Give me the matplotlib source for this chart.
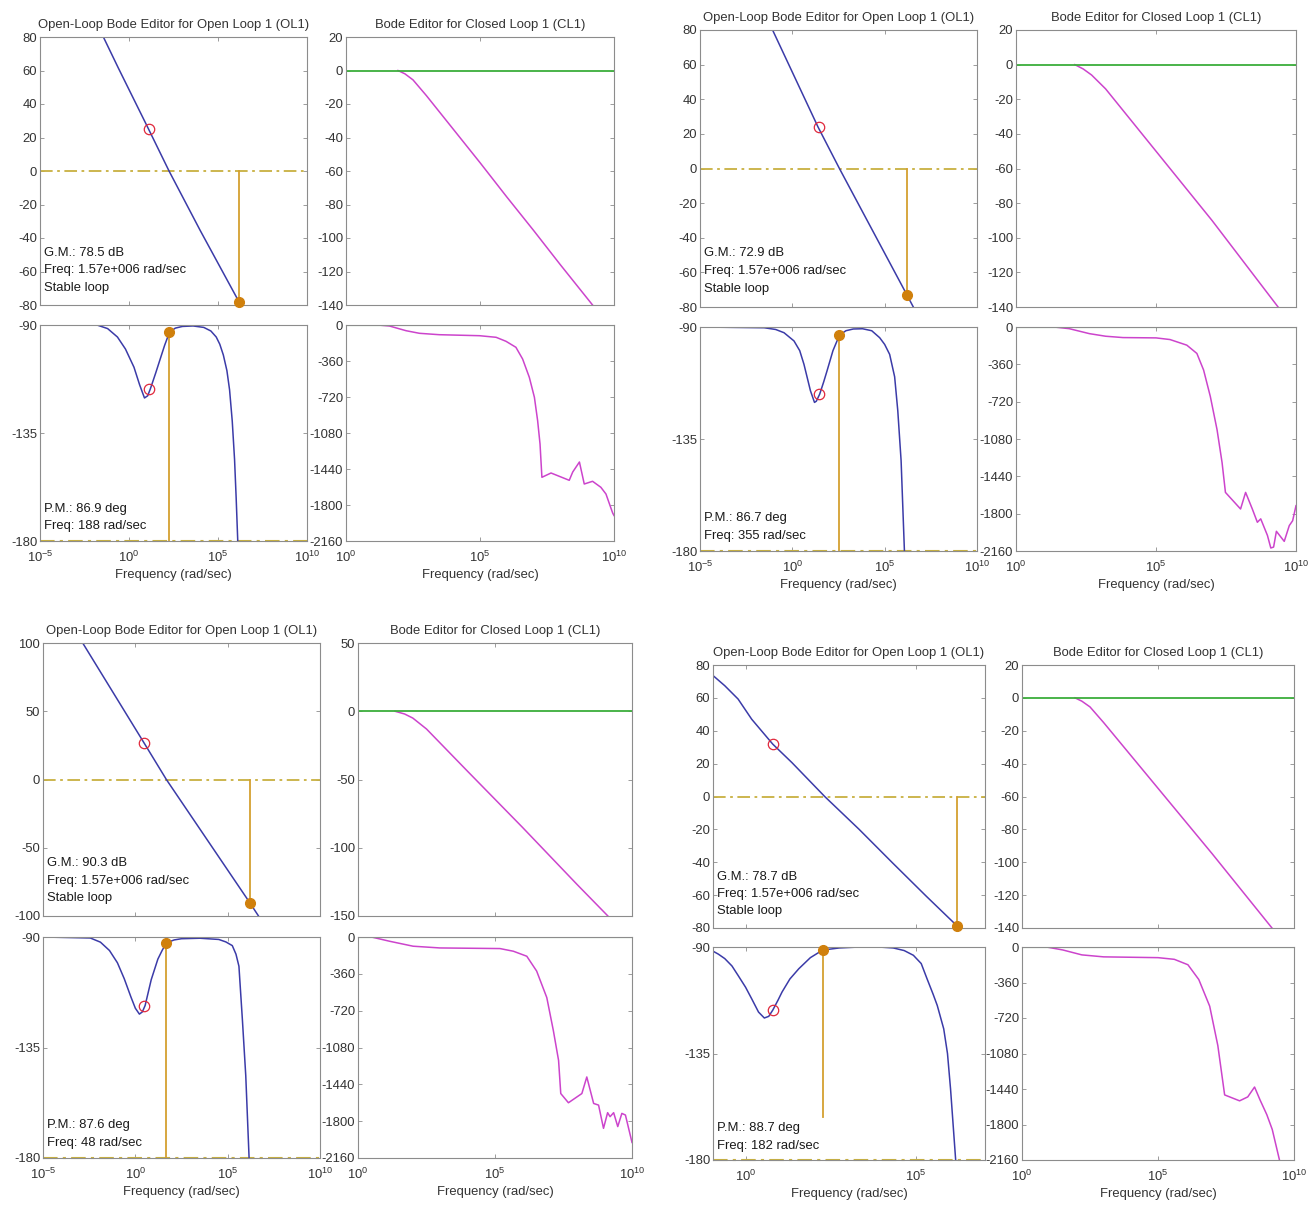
import numpy as np
import matplotlib
matplotlib.use('Agg')
import matplotlib.pyplot as plt
from matplotlib.ticker import FixedLocator, NullLocator, LogFormatterMathtext

plt.rcParams['font.family'] = ['Liberation Sans', 'DejaVu Sans']
plt.rcParams['mathtext.fontset'] = 'custom'
plt.rcParams['mathtext.rm'] = 'Liberation Sans'
plt.rcParams['mathtext.it'] = 'Liberation Sans:italic'
plt.rcParams['axes.unicode_minus'] = False

W, H = 1314, 1207

BLUE = '#3b3ba8'
MAGENTA = '#cc44cc'
GREEN = '#3cae3c'
GOLD = '#d4a030'
DASH = '#c8b040'
DOT = '#d0800c'
RED = '#e0283c'
TXT = '#1a1a1a'
FS = 9.4

OL_TITLE = 'Open-Loop Bode Editor for Open Loop 1 (OL1)'
CL_TITLE = 'Bode Editor for Closed Loop 1 (CL1)'
XLABEL = 'Frequency (rad/sec)'

# frequencies are given as log10(rad/sec)
# ---- panel a (top left)
a_ol_mag_w = [-1.44, -0.6, 1.1, 2.25, 4.0, 6.2, 6.5]
a_ol_mag_db = [80, 61.5, 25, 0, -35.5, -78.5, -85]
a_ol_ph_w = [-5, -1.8, -1.2, -0.65, -0.2, 0.28, 0.6, 0.87, 1.05, 1.2, 1.5, 1.76, 2.0, 2.27,
             2.6, 3.0, 3.6, 4.2, 4.6, 4.9, 5.1, 5.3, 5.5, 5.65, 5.8, 5.93, 6.02, 6.11, 6.2]
a_ol_ph_deg = [-90, -90, -91.5, -95, -100, -107.6, -115, -120.4, -119.5, -116.6, -110, -104,
               -98.5, -93.1, -91.3, -90.6, -90.4, -91, -92.5, -95, -98, -102.5, -109, -117,
               -130, -146, -162, -180, -195]
a_cl_mag_w = [1.94, 2.2, 2.5, 3.0, 4.0, 5.0, 6.0, 7.0, 8.0, 9.23]
a_cl_mag_db = [0, -2, -5.6, -15, -35, -55, -75.5, -95.5, -116, -140.6]
a_cl_ph_w = [1.18, 1.62, 2.24, 2.74, 3.48, 4.98, 5.6, 5.97, 6.34, 6.59, 6.84, 7.03, 7.15,
             7.24, 7.31, 7.65, 8.33, 8.46, 8.71, 8.89, 9.2, 9.51, 9.7, 9.95, 10]
a_cl_ph_deg = [0, -10, -57, -83, -97, -107, -123, -163, -223, -340, -523, -723, -956,
               -1190, -1523, -1480, -1553, -1470, -1370, -1590, -1563, -1623, -1690, -1880, -1905]
a_gm, a_gm_freq = 78.5, 1.57e6
a_pm, a_pm_freq = 86.9, 188
a_circ = (1.1, 25, -116.6)

# ---- panel b (top right)
b_ol_mag_w = [-1.07, 1.39, 2.55, 6.2, 6.6]
b_ol_mag_db = [80, 24, 0, -72.9, -81]
b_ol_ph_w = [-5, -1.52, -0.9, -0.45, 0.09, 0.4, 0.63, 0.98, 1.2, 1.3, 1.48, 1.7, 1.88, 2.2,
             2.55, 2.9, 3.3, 3.8, 4.3, 4.73, 5.0, 5.27, 5.54, 5.71, 5.89, 6.07, 6.2]
b_ol_ph_deg = [-90, -90.3, -91, -92.3, -95.6, -99.5, -105, -115.6, -120.3, -119.8, -117, -112,
               -107.6, -99.5, -93.3, -91.5, -90.8, -90.7, -91.5, -94.3, -97, -101, -110,
               -123.6, -143.7, -180, -200]
b_cl_mag_w = [2.1, 2.4, 2.7, 3.2, 5.0, 7.0, 9.36]
b_cl_mag_db = [0, -2.5, -6, -14, -50, -90, -140]
b_cl_ph_w = [1.36, 1.9, 2.62, 3.2, 3.82, 5.0, 5.5, 6.1, 6.46, 6.7, 6.94, 7.18, 7.36, 7.48,
             8.02, 8.2, 8.44, 8.62, 8.74, 8.98, 9.1, 9.2, 9.3, 9.58, 9.76, 9.88, 10]
b_cl_ph_deg = [0, -16, -64, -89, -102, -105, -121, -175, -255, -415, -670, -990, -1308, -1595,
               -1755, -1595, -1755, -1883, -1850, -2010, -2131, -2122, -1970, -2067, -1915,
               -1868, -1723]
b_gm, b_gm_freq = 72.9, 1.57e6
b_pm, b_pm_freq = 86.7, 355
b_circ = (1.45, 24, -117)

# ---- panel c (bottom left)
c_ol_mag_w = [-2.85, 0.49, 1.68, 6.2, 6.67]
c_ol_mag_db = [100, 26.4, 0, -90.3, -100]
c_ol_ph_w = [-5, -2.44, -1.89, -1.4, -0.97, -0.6, -0.24, 0.0, 0.22, 0.38, 0.53, 0.7, 0.86,
             1.22, 1.45, 1.68, 2.1, 2.5, 3.5, 4.52, 4.9, 5.25, 5.45, 5.61, 5.8, 5.98, 6.16, 6.3]
c_ol_ph_deg = [-90, -90.4, -92.1, -95.5, -100.5, -107, -114.4, -119, -121.4, -120.5, -117.9,
               -112.5, -107.4, -99, -95.5, -92.4, -91.2, -90.7, -90.5, -91, -92, -93.5, -97,
               -101.9, -124, -146.5, -180, -200]
c_cl_mag_w = [1.35, 1.7, 2.0, 2.5, 4.0, 6.0, 8.0, 9.12]
c_cl_mag_db = [0, -2, -5, -13, -44, -85, -127, -150]
c_cl_ph_w = [0.49, 1.16, 2.01, 2.99, 5.18, 5.67, 6.16, 6.52, 6.89, 7.13, 7.32, 7.4, 7.68,
             8.17, 8.35, 8.6, 8.78, 8.96, 9.11, 9.2, 9.33, 9.48, 9.63, 9.76, 10]
c_cl_ph_deg = [0, -42, -90, -107, -113, -139, -188, -333, -592, -915, -1206, -1530, -1620,
               -1530, -1368, -1627, -1643, -1870, -1717, -1756, -1717, -1853, -1724, -1740,
               -2008]
c_gm, c_gm_freq = 90.3, 1.57e6
c_pm, c_pm_freq = 87.6, 48
c_circ = (0.49, 26.4, -117.9)

# ---- panel d (bottom right)
d_ol_mag_w = [-0.95, -0.61, -0.22, 0.18, 0.8, 1.36, 2.32, 3.33, 4.31, 5.3, 6.2]
d_ol_mag_db = [73.5, 67.4, 59.3, 47, 31.8, 20.6, 0, -20, -40.4, -60.7, -78.7]
d_ol_ph_w = [-1.0, -0.8, -0.61, -0.4, -0.22, 0.0, 0.18, 0.38, 0.55, 0.68, 0.8, 0.95, 1.07,
             1.3, 1.56, 1.9, 2.26, 2.75, 3.34, 3.9, 4.33, 4.65, 4.92, 5.15, 5.32, 5.5, 5.62,
             5.81, 5.92, 6.01, 6.16, 6.3]
d_ol_ph_deg = [-91.4, -93, -94.9, -98, -102, -107, -111.9, -117.5, -120, -119.3, -116.6,
               -112.5, -109, -103.5, -99.2, -94.5, -91.3, -90.4, -90, -90, -90.4, -91.5,
               -93.5, -97, -103.4, -110, -114.7, -124.6, -135, -150, -180, -200]
d_cl_mag_w = [1.95, 2.2, 2.5, 3.0, 5.0, 7.0, 9.19]
d_cl_mag_db = [0, -2, -5.5, -15, -55, -95, -140]
d_cl_ph_w = [0.9, 1.5, 2.2, 3.0, 5.0, 5.6, 6.1, 6.5, 6.9, 7.2, 7.35, 7.45, 8.0, 8.3, 8.55,
             8.75, 9.0, 9.2, 9.5]
d_cl_ph_deg = [0, -30, -80, -100, -108, -125, -180, -330, -600, -1000, -1300, -1500, -1560,
               -1520, -1420, -1550, -1700, -1850, -2200]
d_gm, d_gm_freq = 78.7, 1.57e6
d_pm, d_pm_freq = 88.7, 182
d_circ = (0.8, 31.8, -116.6)
d_pm_line_bottom = -162

fig = plt.figure(figsize=(W / 100, H / 100), dpi=100)


def px_box(left, top, right, bottom):
    return [left / W, 1 - bottom / H, (right - left) / W, (bottom - top) / H]


def style(ax):
    for s in ax.spines.values():
        s.set_color('#8c8c8c')
        s.set_linewidth(0.8)
    ax.tick_params(direction='in', top=True, right=True, length=3, width=0.6,
                   color='#8c8c8c', labelsize=FS, labelcolor='#333333')
    ax.tick_params(axis='y', pad=2)
    ax.tick_params(axis='x', pad=6)


def log_x(ax, lo, hi, ticks, labels):
    ax.set_xscale('log')
    ax.set_xlim(10.0 ** lo, 10.0 ** hi)
    ax.xaxis.set_major_locator(FixedLocator([10.0 ** t for t in ticks]))
    ax.xaxis.set_minor_locator(NullLocator())
    ax.xaxis.set_major_formatter(LogFormatterMathtext())
    ax.tick_params(axis='x', labelbottom=labels)
    if labels:
        ax.set_xlabel(XLABEL, fontsize=FS, color='#333333', labelpad=3)


def exp10(seq):
    return 10.0 ** np.asarray(seq, dtype=float)


def panel(boxes, ol_mag, ol_ph, cl_mag, cl_ph, gm, gm_freq, pm, pm_freq, circ,
          ol_xlim, ol_ticks, ol_mag_lim, ol_mag_ticks, cl_mag_lim, cl_mag_ticks,
          pm_bottom=-180):
    b_olm, b_olp, b_clm, b_clp = boxes

    # open-loop magnitude
    ax = fig.add_axes(px_box(*b_olm))
    style(ax)
    log_x(ax, *ol_xlim, ol_ticks, False)
    ax.set_ylim(*ol_mag_lim)
    ax.set_yticks(ol_mag_ticks)
    ax.axhline(0, color=DASH, lw=1.3, dashes=(7, 2.5, 1.5, 2.5))
    ax.plot([gm_freq, gm_freq], [0, -gm], color=GOLD, lw=1.3)
    ax.plot(exp10(ol_mag[0]), ol_mag[1], color=BLUE, lw=1.1)
    ax.plot([gm_freq], [-gm], 'o', color=DOT, ms=7, clip_on=False, zorder=5)
    ax.plot([10 ** circ[0]], [circ[1]], 'o', mfc='none', mec=RED, ms=7.5, mew=0.9, zorder=5)
    ax.set_title(OL_TITLE, fontsize=FS, color='#333333', pad=6.5)
    lines = ['G.M.: %.1f dB' % gm, 'Freq: 1.57e+006 rad/sec', 'Stable loop']
    for i, t in enumerate(lines):
        ax.text(0.015, 0.195 - 0.065 * i, t, transform=ax.transAxes, fontsize=FS,
                color=TXT, va='center', ha='left')

    # open-loop phase
    ax = fig.add_axes(px_box(*b_olp))
    style(ax)
    log_x(ax, *ol_xlim, ol_ticks, True)
    ax.set_ylim(-180, -90)
    ax.set_yticks([-180, -135, -90])
    ax.axhline(-180, color=DASH, lw=1.5, dashes=(7, 2.5, 1.5, 2.5), clip_on=False)
    ax.plot([pm_freq, pm_freq], [pm_bottom, pm - 180], color=GOLD, lw=1.3, clip_on=False)
    ax.plot(exp10(ol_ph[0]), ol_ph[1], color=BLUE, lw=1.1)
    ax.plot([pm_freq], [pm - 180], 'o', color=DOT, ms=7, clip_on=False, zorder=5)
    ax.plot([10 ** circ[0]], [circ[2]], 'o', mfc='none', mec=RED, ms=7.5, mew=0.9, zorder=5)
    lines = ['P.M.: %.1f deg' % pm, 'Freq: %d rad/sec' % pm_freq]
    for i, t in enumerate(lines):
        ax.text(0.015, 0.148 - 0.08 * i, t, transform=ax.transAxes, fontsize=FS,
                color=TXT, va='center', ha='left')

    # closed-loop magnitude
    ax = fig.add_axes(px_box(*b_clm))
    style(ax)
    log_x(ax, 0, 10, [0, 5, 10], False)
    ax.set_ylim(*cl_mag_lim)
    ax.set_yticks(cl_mag_ticks)
    ax.plot(exp10(cl_mag[0]), cl_mag[1], color=MAGENTA, lw=1.1)
    ax.axhline(0, color=GREEN, lw=1.3)
    ax.set_title(CL_TITLE, fontsize=FS, color='#333333', pad=6.5)

    # closed-loop phase
    ax = fig.add_axes(px_box(*b_clp))
    style(ax)
    log_x(ax, 0, 10, [0, 5, 10], True)
    ax.set_ylim(-2160, 0)
    ax.set_yticks(np.arange(-2160, 1, 360))
    ax.plot(exp10(cl_ph[0]), cl_ph[1], color=MAGENTA, lw=1.1)
    ax.axhline(0, color=GREEN, lw=1.5)


mag20 = list(range(-80, 81, 20))
cl20 = list(range(-140, 21, 20))

panel([(40, 37, 307, 305), (40, 325, 307, 541), (346, 37, 614, 305), (346, 325, 614, 541)],
      (a_ol_mag_w, a_ol_mag_db), (a_ol_ph_w, a_ol_ph_deg),
      (a_cl_mag_w, a_cl_mag_db), (a_cl_ph_w, a_cl_ph_deg),
      a_gm, a_gm_freq, a_pm, a_pm_freq, a_circ,
      (-5, 10), [-5, 0, 5, 10], (-80, 80), mag20, (-140, 20), cl20)

panel([(700, 30, 977, 307), (700, 327, 977, 551), (1016, 30, 1296, 307), (1016, 327, 1296, 551)],
      (b_ol_mag_w, b_ol_mag_db), (b_ol_ph_w, b_ol_ph_deg),
      (b_cl_mag_w, b_cl_mag_db), (b_cl_ph_w, b_cl_ph_deg),
      b_gm, b_gm_freq, b_pm, b_pm_freq, b_circ,
      (-5, 10), [-5, 0, 5, 10], (-80, 80), mag20, (-140, 20), cl20)

panel([(43, 643, 320, 916), (43, 937, 320, 1158), (358, 643, 632, 916), (358, 937, 632, 1158)],
      (c_ol_mag_w, c_ol_mag_db), (c_ol_ph_w, c_ol_ph_deg),
      (c_cl_mag_w, c_cl_mag_db), (c_cl_ph_w, c_cl_ph_deg),
      c_gm, c_gm_freq, c_pm, c_pm_freq, c_circ,
      (-5, 10), [-5, 0, 5, 10], (-100, 100), [-100, -50, 0, 50, 100],
      (-150, 50), [-150, -100, -50, 0, 50])

panel([(713, 665, 985, 928), (713, 947, 985, 1160), (1022, 665, 1294, 928), (1022, 947, 1294, 1160)],
      (d_ol_mag_w, d_ol_mag_db), (d_ol_ph_w, d_ol_ph_deg),
      (d_cl_mag_w, d_cl_mag_db), (d_cl_ph_w, d_cl_ph_deg),
      d_gm, d_gm_freq, d_pm, d_pm_freq, d_circ,
      (-0.955, 7.02), [0, 5], (-80, 80), mag20, (-140, 20), cl20,
      pm_bottom=d_pm_line_bottom)

fig.savefig('out.png', dpi=100, facecolor='white')
